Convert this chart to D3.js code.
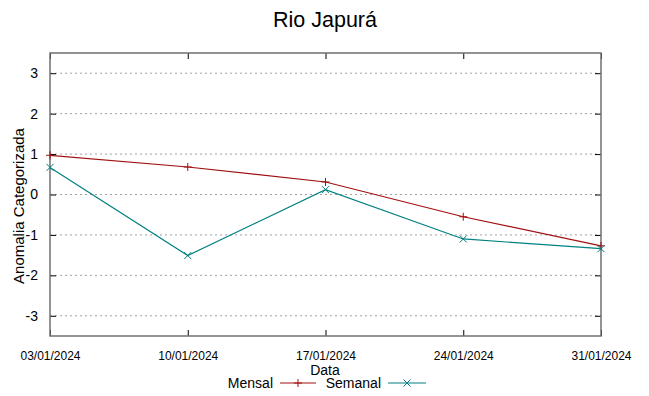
<!DOCTYPE html>
<html><head><meta charset="utf-8">
<script src="https://cdn.jsdelivr.net/npm/d3@7"></script>
<style>body{margin:0;background:#fff}svg{display:block;font-family:"Liberation Sans",Arial,sans-serif}</style>
</head><body><svg id="c" width="649" height="396"></svg>
<script>
const dates = ["03/01/2024","10/01/2024","17/01/2024","24/01/2024","31/01/2024"];
const mensal = [0.97, 0.68, 0.31, -0.55, -1.27];
const semanal = [0.67, -1.51, 0.12, -1.10, -1.34];
const yTicks = [-3,-2,-1,0,1,2,3];

const svg = d3.select("#c");
const L=50, R=601, T=53, B=336;
const parse = d3.timeParse("%d/%m/%Y");
const dx = dates.map(parse);
const x = d3.scaleTime().domain([dx[0], dx[dx.length-1]]).range([L,R]);
const y = d3.scaleLinear().domain([-3.5,3.5]).range([B,T]);

// grid
svg.append("g").selectAll("line").data(yTicks).join("line")
  .attr("x1",L).attr("x2",R).attr("y1",d=>y(d)).attr("y2",d=>y(d))
  .attr("stroke","#a0a0a0").attr("stroke-width",1).attr("stroke-dasharray","2,3");

// axes
const yl = svg.append("g").attr("transform",`translate(${L},0)`)
  .call(d3.axisLeft(y).tickValues(yTicks).tickSize(-6).tickPadding(12).tickFormat(d=>String(d)));
const yr = svg.append("g").attr("transform",`translate(${R},0)`)
  .call(d3.axisRight(y).tickValues(yTicks).tickSize(-6).tickFormat(""));
const xb = svg.append("g").attr("transform",`translate(0,${B})`)
  .call(d3.axisBottom(x).tickValues(dx).tickSize(-6).tickPadding(14).tickFormat(d3.timeFormat("%d/%m/%Y")));
const xt = svg.append("g").attr("transform",`translate(0,${T})`)
  .call(d3.axisTop(x).tickValues(dx).tickSize(-6).tickFormat(""));
[yl,yr,xb,xt].forEach(g=>{g.select(".domain").remove(); g.selectAll(".tick line").attr("stroke","#000");});
yl.selectAll("text").attr("font-size",14).attr("fill","#000").attr("font-family","Liberation Sans, Arial");
xb.selectAll("text").attr("font-size",12).attr("fill","#000").attr("font-family","Liberation Sans Narrow, Liberation Sans")
  .attr("dy","0.85em");

// frame
svg.append("rect").attr("x",L).attr("y",T).attr("width",R-L).attr("height",B-T)
  .attr("fill","none").attr("stroke","#707070").attr("stroke-width",1.5);

function series(vals,color,sym){
  const pts = vals.map((v,i)=>[x(dx[i]),y(v)]);
  svg.append("path").attr("d",d3.line()(pts)).attr("fill","none").attr("stroke",color).attr("stroke-width",1.2);
  svg.append("g").selectAll("path").data(pts).join("path")
    .attr("d",p=>sym(p[0],p[1])).attr("stroke",color).attr("stroke-width",1).attr("fill","none");
}
const plus=(cx,cy)=>`M${cx-4},${cy}H${cx+4}M${cx},${cy-4}V${cy+4}`;
const cross=(cx,cy)=>`M${cx-3.5},${cy-3.5}L${cx+3.5},${cy+3.5}M${cx-3.5},${cy+3.5}L${cx+3.5},${cy-3.5}`;
const cM="#a01010", cS="#008080";
series(mensal,cM,plus);
series(semanal,cS,cross);

// title & labels
svg.append("text").attr("x",325).attr("y",27).attr("text-anchor","middle").attr("font-size",21.5).text("Rio Japurá");
svg.append("text").attr("transform","translate(24,206) rotate(-90)").attr("text-anchor","middle").attr("font-size",15).text("Anomalia Categorizada");
svg.append("text").attr("x",325).attr("y",375).attr("text-anchor","middle").attr("font-size",14).text("Data");

// legend
const lg = svg.append("g").attr("font-size",14);
lg.append("text").attr("x",273).attr("y",388).attr("text-anchor","end").text("Mensal");
lg.append("line").attr("x1",280).attr("x2",316).attr("y1",383).attr("y2",383).attr("stroke",cM).attr("stroke-width",1.2);
lg.append("path").attr("d",plus(298,383)).attr("stroke",cM);
lg.append("text").attr("x",381).attr("y",388).attr("text-anchor","end").text("Semanal");
lg.append("line").attr("x1",388).attr("x2",426).attr("y1",383).attr("y2",383).attr("stroke",cS).attr("stroke-width",1.2);
lg.append("path").attr("d",cross(407,383)).attr("stroke",cS);
</script></body></html>
